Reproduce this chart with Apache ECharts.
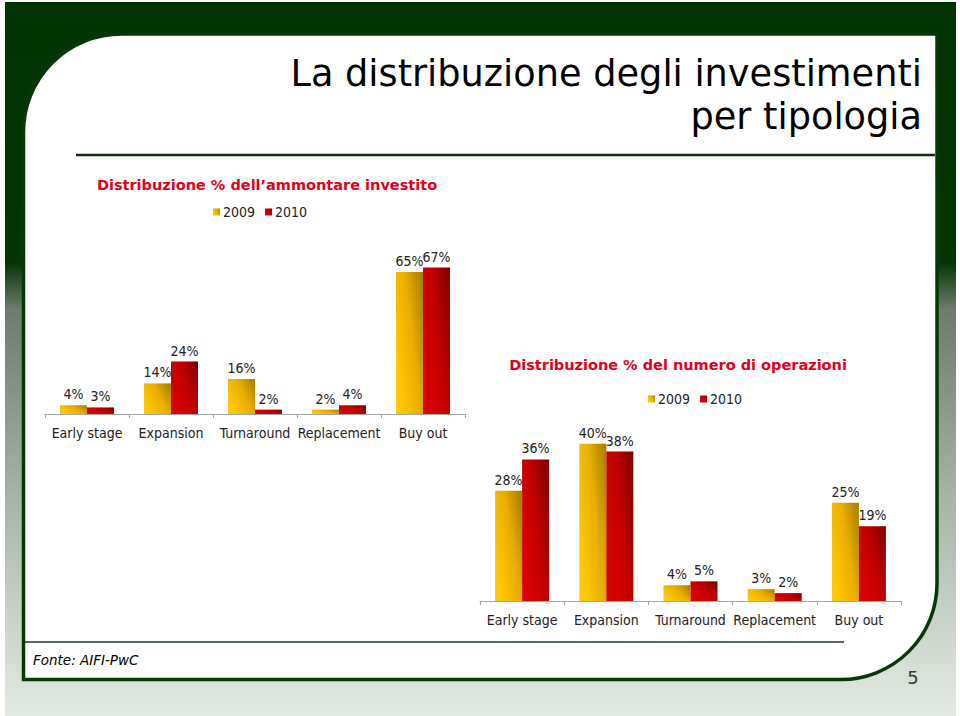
<!DOCTYPE html>
<html>
<head>
<meta charset="utf-8">
<script src="https://cdn.jsdelivr.net/npm/echarts@6/dist/echarts.min.js"></script>
<style>
html,body{margin:0;padding:0;background:#fff;}
#c{width:960px;height:716px;}
</style>
</head>
<body>
<div id="c"></div>
<script>
// ---- data ----
var categories = ['Early stage', 'Expansion', 'Turnaround', 'Replacement', 'Buy out'];
var seriesNames = ['2009', '2010'];
var amount2009 = [4, 14, 16, 2, 65];
var amount2010 = [3, 24, 2, 4, 67];
var deals2009 = [28, 40, 4, 3, 25];
var deals2010 = [36, 38, 5, 2, 19];
var mainTitle1 = 'La distribuzione degli investimenti';
var mainTitle2 = 'per tipologia';
var chartTitle1 = 'Distribuzione % dell\u2019ammontare investito';
var chartTitle2 = 'Distribuzione % del numero di operazioni';
var sourceText = 'Fonte: AIFI-PwC';
var pageNumber = '5';

// ---- styles ----
var FONT = "'DejaVu Sans Condensed', 'DejaVu Sans', sans-serif";
var WIDE = "'DejaVu Sans', sans-serif";
var RED = '#e2001a';
var GREEN = '#063806';
function grad(c0, c1, c2) {
  return new echarts.graphic.LinearGradient(0, 0.6, 1, 0, [
    {offset: 0, color: c0}, {offset: 0.5, color: c1}, {offset: 1, color: c2}
  ]);
}
var col2009 = grad('#ffc800', '#e9ae00', '#a57b00');
var col2010 = grad('#d80000', '#c00000', '#7a0000');

function barSeries(name, data, idx, color) {
  return {
    type: 'bar', name: name, data: data,
    xAxisIndex: idx, yAxisIndex: idx,
    barWidth: 27, barGap: '0%',
    itemStyle: {color: color},
    label: {show: true, position: 'top', distance: 4, formatter: '{c}%',
            color: '#222', fontFamily: FONT, fontSize: 14}
  };
}
function xAx(idx) {
  return {
    type: 'category', gridIndex: idx, data: categories,
    axisLine: {lineStyle: {color: '#a6a6a6', width: 1}},
    axisTick: {show: true, length: 4, lineStyle: {color: '#a6a6a6'}},
    axisLabel: {color: '#222', fontFamily: FONT, fontSize: 14, margin: 12, interval: 0}
  };
}
function yAx(idx, max) {
  return {type: 'value', gridIndex: idx, min: 0, max: max, show: false, splitLine: {show: false}};
}
function legendAt(cx, cy) {
  return {
    data: seriesNames, left: cx, top: cy, itemWidth: 7, itemHeight: 7, itemGap: 10,
    icon: 'rect', padding: 0,
    textStyle: {color: '#222', fontFamily: FONT, fontSize: 14, padding: [0, 0, 0, -2]}
  };
}

var chart = echarts.init(document.getElementById('c'), null, {renderer: 'svg', width: 960, height: 716});
chart.setOption({
  backgroundColor: '#ffffff',
  animation: false,
  graphic: [
    {type: 'rect', z: -10, silent: true, shape: {x: 5, y: 2, width: 951, height: 714},
     style: {fill: new echarts.graphic.LinearGradient(0, 0, 0, 1, [
       {offset: 0, color: '#023302'}, {offset: 0.365, color: '#043604'},
       {offset: 0.43, color: '#6d7a6d'}, {offset: 0.7, color: '#a9b5a9'},
       {offset: 1, color: '#e3eae3'}])}},
    {type: 'rect', z: -9, silent: true,
     shape: {x: 23.5, y: 34, width: 913.5, height: 645.5, r: [98, 0, 96, 0]},
     style: {fill: '#ffffff', stroke: GREEN, lineWidth: 3.5}},
    {type: 'line', z: -8, silent: true, shape: {x1: 76, y1: 155, x2: 935, y2: 155},
     style: {stroke: '#0e2e0e', lineWidth: 2.5}},
    {type: 'line', z: -8, silent: true, shape: {x1: 25, y1: 642, x2: 844, y2: 642},
     style: {stroke: '#1d3a1d', lineWidth: 1.5}},
    {type: 'text', z: 5, style: {text: mainTitle1, x: 922, y: 73.5, align: 'right', verticalAlign: 'middle',
      fill: '#000', font: "36.7px 'DejaVu Sans', sans-serif"}},
    {type: 'text', z: 5, style: {text: mainTitle2, x: 922, y: 116.5, align: 'right', verticalAlign: 'middle',
      fill: '#000', font: "36.7px 'DejaVu Sans', sans-serif"}},
    {type: 'text', z: 5, style: {text: sourceText, x: 33, y: 660, align: 'left', verticalAlign: 'middle',
      fill: '#000', font: "italic 13.5px 'DejaVu Sans', sans-serif"}},
    {type: 'text', z: 5, style: {text: pageNumber, x: 913, y: 677, align: 'center', verticalAlign: 'middle',
      fill: '#2f3f2f', font: "18px 'DejaVu Sans', sans-serif"}}
  ],
  title: [
    {text: chartTitle1, left: 267, top: 177, textAlign: 'center', padding: 0,
     textStyle: {color: RED, fontFamily: WIDE, fontWeight: 'bold', fontSize: 14.5}},
    {text: chartTitle2, left: 678, top: 357, textAlign: 'center', padding: 0,
     textStyle: {color: RED, fontFamily: WIDE, fontWeight: 'bold', fontSize: 14.5}}
  ],
  legend: [legendAt(213, 205), legendAt(648, 392)],
  grid: [
    {left: 45, top: 261, width: 420, height: 153, containLabel: false},
    {left: 480, top: 424, width: 421, height: 177, containLabel: false}
  ],
  xAxis: [xAx(0), xAx(1)],
  yAxis: [yAx(0, 70), yAx(1, 45)],
  series: [
    barSeries(seriesNames[0], amount2009, 0, col2009),
    barSeries(seriesNames[1], amount2010, 0, col2010),
    barSeries(seriesNames[0], deals2009, 1, col2009),
    barSeries(seriesNames[1], deals2010, 1, col2010)
  ]
});
</script>
</body>
</html>
